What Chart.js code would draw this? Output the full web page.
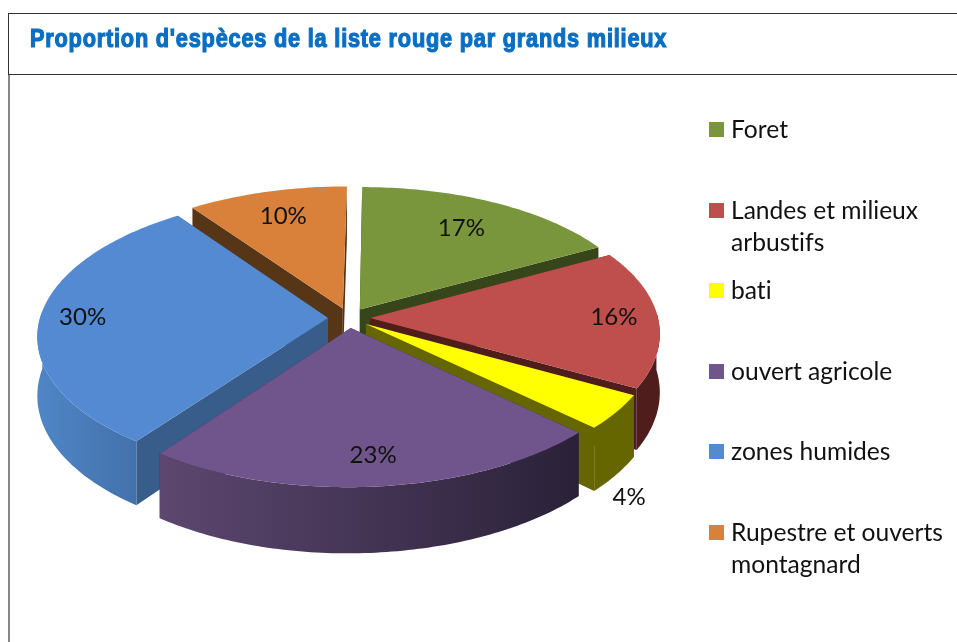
<!DOCTYPE html>
<html>
<head>
<meta charset="utf-8">
<script src="https://cdn.jsdelivr.net/npm/chart.js@4/dist/chart.umd.min.js"></script>
<style>
  html, body { margin: 0; background: #fff; overflow: hidden; }
  #wrap { position: relative; width: 957px; height: 642px; }
  #chart { position: absolute; left: 0; top: 0; }
  #topline { position: absolute; left: 8px; right: 0; top: 13px; height: 1px; background: #333; }
  #midline { position: absolute; left: 8px; right: 0; top: 74px; height: 1px; background: #333; }
  #leftTop { position: absolute; left: 8px; top: 13px; width: 1px; height: 62px; background: #333; }
  #leftLow { position: absolute; left: 8px; top: 75px; width: 2px; height: 567px; background: #888; }
  #title {
    position: absolute; left: 30px; top: 24px; white-space: nowrap;
    font: bold 25px "Liberation Sans Narrow", "Liberation Sans", sans-serif;
    color: #0a6fc2; -webkit-text-stroke: 1.2px #0a6fc2; letter-spacing: 0.9px;
    transform: scaleX(0.87); transform-origin: left top;
  }
  #legend { position: absolute; left: 0; top: 0; font: 24.6px/32px Lato, sans-serif; color: #111; font-variant-ligatures: none; }
  .item { position: absolute; left: 731px; white-space: nowrap; }
  .swatch { position: absolute; left: -22px; top: 9px; width: 15px; height: 15px; }
</style>
</head>
<body>
<div id="wrap">
  <canvas id="chart" width="957" height="642"></canvas>
  <div id="topline"></div><div id="midline"></div><div id="leftTop"></div><div id="leftLow"></div>
  <div id="title">Proportion d'espèces de la liste rouge par grands milieux</div>
  <div id="legend"></div>
</div>
<script>
const categories = ["Foret", ["Landes et milieux", "arbustifs"], "bati", "ouvert agricole", "zones humides", ["Rupestre et ouverts", "montagnard"]];
const values = [17, 16, 4, 23, 30, 10];

const topColors = ["#7a963c", "#be4f4c", "#ffff00", "#70558c", "#538ad2", "#d9813b"];
const wallColors = ["#36461a", "#4f1e1c", "#666600", "#2e2540", "#385d8a", "#573517"];
const arcLeftColors = ["#36461a", "#4f1e1c", "#666600", "#5d4770", "#4f86c6", "#573517"];
const arcRightColors = ["#36461a", "#4f1e1c", "#666600", "#2a2138", "#4371ab", "#573517"];

// where each percent sits: fraction of the radius, and how far it drops below the top face
const labelRadius = [0.81, 0.92, 1.12, 0.9, 0.925, 0.84];
const labelDrop = [0, 0, 76, 0, 0, 0];

// fake 3d view, the library has no 3d pie
const tilt = 0.48, persp = 0.0004, shear = -0.012, depth = 58;

function project(cx, cy, X, Y, drop) {
  const f = 1 / (1 - persp * Y);
  return [cx + X * f + shear * Y, cy + tilt * Y * f + (drop || 0) * f];
}

const pie3d = {
  id: "pie3d",
  afterLayout(chart) {
    // centre of the pie, the html legend sits outside of it
    chart.chartArea = { left: 38, top: 7, right: 660, bottom: 629, width: 622, height: 622 };
  },
  beforeDatasetsDraw(chart) {
    const ctx = chart.ctx;
    const arcs = chart.getDatasetMeta(0).data.map((arc, i) => ({ arc, i }));
    arcs.sort((a, b) => Math.sin((a.arc.startAngle + a.arc.endAngle) / 2) - Math.sin((b.arc.startAngle + b.arc.endAngle) / 2));

    arcs.forEach(({ arc, i }) => {
      const mid = (arc.startAngle + arc.endAngle) / 2;
      const off = arc.options.offset;
      const ox = Math.cos(mid) * off, oy = Math.sin(mid) * off;
      const r = arc.outerRadius;
      const pts = [], front = [];
      const steps = Math.ceil((arc.endAngle - arc.startAngle) * 60);
      for (let s = 0; s <= steps; s++) {
        const a = arc.startAngle + (arc.endAngle - arc.startAngle) * s / steps;
        const p = [ox + Math.cos(a) * r, oy + Math.sin(a) * r];
        pts.push(p);
        // back of the rim is never seen
        if (Math.sin(a) > -0.05) front.push(p);
      }
      const P = (p, drop) => project(arc.x, arc.y, p[0], p[1], drop);
      const poly = (list, fill) => {
        ctx.beginPath();
        list.forEach((q, n) => n ? ctx.lineTo(q[0], q[1]) : ctx.moveTo(q[0], q[1]));
        ctx.closePath();
        ctx.fillStyle = fill;
        ctx.fill();
      };
      const tip = [ox, oy];
      const first = pts[0], last = pts[pts.length - 1];

      // radial walls
      poly([P(tip), P(first), P(first, depth), P(tip, depth)], wallColors[i]);
      poly([P(tip), P(last), P(last, depth), P(tip, depth)], wallColors[i]);

      // outer wall
      if (front.length > 1) {
        const xs = front.map(p => P(p)[0]);
        const grad = ctx.createLinearGradient(Math.min(...xs), 0, Math.max(...xs), 0);
        grad.addColorStop(0, arcLeftColors[i]);
        grad.addColorStop(1, arcRightColors[i]);
        poly(front.map(p => P(p)).concat(front.slice().reverse().map(p => P(p, depth))), grad);
      }

      // top face
      poly([P(tip)].concat(pts.map(p => P(p))), topColors[i]);
    });

    // percent labels
    ctx.font = "24px Lato, sans-serif";
    ctx.fillStyle = "#111";
    ctx.textAlign = "center";
    ctx.textBaseline = "middle";
    chart.getDatasetMeta(0).data.forEach((arc, i) => {
      const mid = (arc.startAngle + arc.endAngle) / 2;
      const rho = arc.outerRadius * labelRadius[i];
      const q = project(arc.x, arc.y, Math.cos(mid) * rho, Math.sin(mid) * rho, labelDrop[i]);
      ctx.fillText(values[i] + "%", q[0], q[1] - 1);
    });
    return false;
  }
};

new Chart(document.getElementById("chart"), {
  type: "pie",
  data: {
    labels: categories,
    datasets: [{ data: values, backgroundColor: topColors, offset: 21, borderWidth: 0 }]
  },
  options: {
    responsive: false,
    animation: false,
    radius: 288,
    plugins: { legend: { display: false }, tooltip: { enabled: false } }
  },
  plugins: [pie3d]
});

// legend rows are evenly spaced, wrapped names just run into the gap
const legendBox = document.getElementById("legend");
categories.forEach((name, i) => {
  const row = document.createElement("div");
  row.className = "item";
  row.style.top = (113 + i * 80.6) + "px";
  const swatch = document.createElement("span");
  swatch.className = "swatch";
  swatch.style.background = topColors[i];
  row.appendChild(swatch);
  [].concat(name).forEach(line => {
    const d = document.createElement("div");
    d.textContent = line;
    row.appendChild(d);
  });
  legendBox.appendChild(row);
});
</script>
</body>
</html>
